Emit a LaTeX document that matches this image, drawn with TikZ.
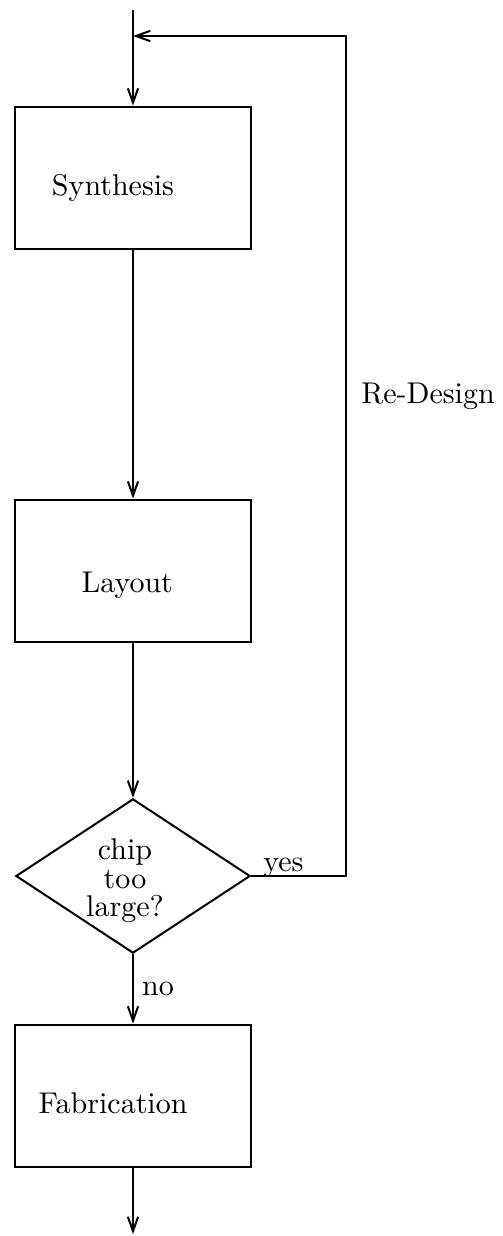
\documentclass[tikz,border=0pt]{standalone}
\usetikzlibrary{shapes.geometric,arrows.meta}
\begin{document}
\begin{tikzpicture}[x=0.35pt,y=-0.35pt,
  line width=0.7pt,
  font=\fontsize{10.5}{10}\selectfont,
  flow/.style={-{Straight Barb[length=5pt,width=3.6pt,line width=0.7pt]}},
  stepbox/.style={draw,rectangle,inner sep=0pt,minimum width=82.3pt,minimum height=50pt},
  decision/.style={draw,diamond,inner sep=0pt,minimum width=82pt,minimum height=54pt}]
\useasboundingbox (0,0) rectangle (502,1236);

% process steps (text lowered and shifted inside each box)
\node[stepbox] (syn) at (133,178)
  {\raisebox{-6pt}[0pt][0pt]{Synthesis}\hspace*{14pt}};
\node[stepbox] (lay) at (133,571)
  {\raisebox{-7.5pt}[0pt][0pt]{Layout}\hspace*{4pt}};
\node[decision,
  label={[align=center,inner sep=0pt,text depth=0pt,xshift=-2.8pt,yshift=-0.7pt]center:chip\\too\\large?}]
  (dec) at (133,876) {};
\node[stepbox] (fab) at (133,1096)
  {\raisebox{-6pt}[0pt][0pt]{Fabrication}\hspace*{14pt}};

% entry, loop corner and exit
\coordinate (in) at (133,10);
\coordinate (join) at (133,36);
\coordinate (rt) at (346,36);
\coordinate (out) at (133,1234);

% main flow
\draw[flow] (in) -- (syn.north);
\draw[flow] (syn.south) -- (lay.north);
\draw[flow] (lay.south) -- (dec.north);
\draw[flow] (dec.south) -- node[right,xshift=-0.5pt]{no} (fab.north);
\draw[flow] (fab.south) -- (out);

% re-design loop
\draw[flow] (dec.east) -| node[pos=0.17,anchor=base,yshift=1.6pt]{yes} (rt) -- (join);
\node (redesign) at (428,396) {Re-Design};
\end{tikzpicture}
\end{document}
